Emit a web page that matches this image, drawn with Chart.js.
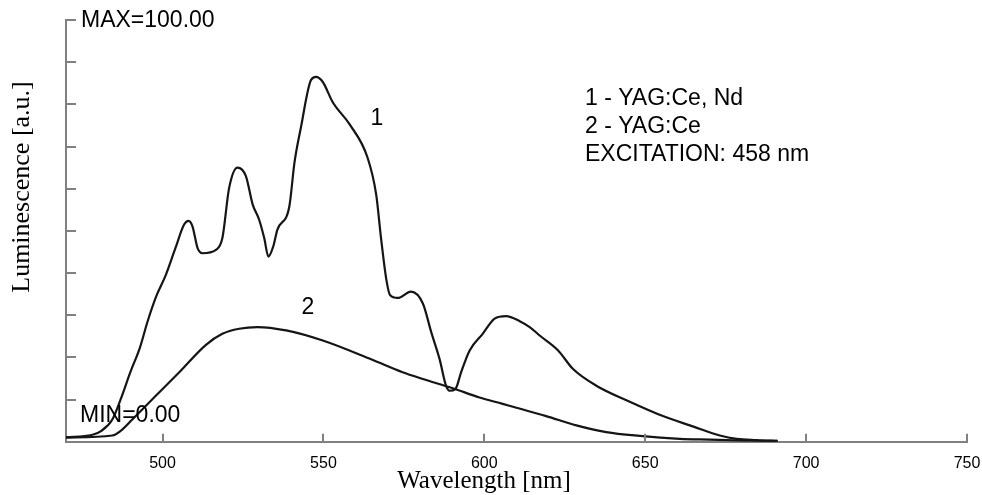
<!DOCTYPE html>
<html>
<head>
<meta charset="utf-8">
<script src="https://cdn.jsdelivr.net/npm/chart.js@4.4.1/dist/chart.umd.min.js"></script>
<style>
  html, body { margin: 0; padding: 0; background: #fff; }
  #wrap { width: 982px; height: 495px; position: relative; }
</style>
</head>
<body>
<div id="wrap"><canvas id="spectrum"></canvas></div>
<script>
// curve 1 - YAG:Ce, Nd
const wl1 = [470, 478, 481, 484.4, 487, 490, 493, 495.3, 498, 501, 504, 506.7, 508.1, 509.3, 510.9, 512.4, 516.6, 518.6,
    520.7, 523.3, 525.9, 528, 530, 531.6, 532.9, 534.4, 535.7, 539.4, 541, 543, 546.1, 547.7, 549.8, 552.9, 558.1,
    563.7, 566.4, 567.9, 569.5, 570.7, 573.1, 577.2, 580.9, 583.5, 586.1, 588.1, 589.2, 591, 592.8, 595.4, 599.5,
    603.2, 606.8, 611, 614.1, 617.2, 623, 627.5, 634.8, 645.2, 655.5, 665, 673.2, 678.4, 684.6, 691.2];
const lum1 = [1.1, 1.6, 2.6, 5.3, 10.1, 16.5, 22.4, 28.4, 34.4, 39.5, 45.9, 51.5, 52.4, 51.1, 45.9, 44.7, 45.5, 48.3,
    60.2, 65.0, 63.0, 56.3, 52.7, 48.3, 43.9, 46.3, 50.3, 55.8, 66.2, 74.5, 85.7, 86.5, 85.3, 80.5, 75.3,
    67.4, 58.6, 48.3, 38.7, 34.8, 34.1, 35.6, 32.8, 26.0, 19.6, 13.3, 12.1, 12.5, 16.5, 21.6, 25.6,
    29.2, 29.8, 28.6, 27.2, 25.2, 21.6, 17.3, 13.3, 9.5, 6.1, 3.6, 1.5, 0.7, 0.4, 0.2];

// curve 2 - YAG:Ce
const wl2 = [470, 484.4, 487, 490.6, 497.9, 505.2, 513.5, 518.6, 523.8, 529.5, 538.4, 549.8, 565, 574.6, 580.9, 590.2,
    598.5, 605.7, 608.9, 619.2, 628.6, 637.9, 648.3, 660.7, 670, 680, 691];
const lum2 = [1.0, 1.5, 2.6, 5.3, 10.9, 16.5, 23.0, 25.6, 26.8, 27.2, 26.4, 24.0, 19.5, 16.5, 14.9, 12.7,
    10.5, 9.0, 8.3, 6.1, 3.9, 2.3, 1.4, 0.7, 0.5, 0.3, 0.2];

const xTicks = [500, 550, 600, 650, 700, 750];
const yTicks = [10, 20, 30, 40, 50, 60, 70, 80, 90, 100];
const legendLines = ['1 - YAG:Ce, Nd', '2 - YAG:Ce', 'EXCITATION: 458 nm'];

const axisColor = '#808080';
const lineColor = '#151515';
const sans = '"Liberation Sans", Arial, sans-serif';
const serif = '"Liberation Serif", "Times New Roman", serif';

function toPoints(xs, ys) {
    return xs.map((v, i) => ({ x: v, y: ys[i] }));
}

// ticks drawn inside the plot + all the text on the figure
const overlay = {
    id: 'overlay',
    afterDraw(chart) {
        const { ctx, chartArea: a, scales: { x, y } } = chart;
        ctx.save();
        ctx.strokeStyle = axisColor;
        ctx.lineWidth = 2;
        yTicks.forEach(v => {
            const py = Math.round(y.getPixelForValue(v));
            ctx.beginPath();
            ctx.moveTo(a.left, py);
            ctx.lineTo(a.left + 10, py);
            ctx.stroke();
        });
        xTicks.forEach(v => {
            const px = Math.round(x.getPixelForValue(v));
            ctx.beginPath();
            ctx.moveTo(px, a.bottom);
            ctx.lineTo(px, a.bottom - 8);
            ctx.stroke();
        });

        ctx.fillStyle = '#000';
        ctx.textBaseline = 'middle';
        ctx.textAlign = 'left';
        ctx.font = '23px ' + sans;
        ctx.fillText('MAX=100.00', 81, 21);
        ctx.fillText('MIN=0.00', 80, 416);

        legendLines.forEach((t, i) => ctx.fillText(t, 585, 99 + i * 28));

        ctx.textAlign = 'center';
        ctx.fillText('1', 377, 119);
        ctx.fillText('2', 308, 308);

        ctx.font = '25px ' + serif;
        ctx.fillText('Wavelength [nm]', 484, 481);

        ctx.translate(22, 187);
        ctx.rotate(-Math.PI / 2);
        ctx.font = '26px ' + serif;
        ctx.fillText('Luminescence [a.u.]', 0, 0);
        ctx.restore();
    }
};

new Chart(document.getElementById('spectrum'), {
    type: 'line',
    data: {
        datasets: [{
            label: '1 - YAG:Ce, Nd',
            data: toPoints(wl1, lum1),
            borderColor: lineColor,
            borderWidth: 2.2,
            pointRadius: 0,
            cubicInterpolationMode: 'monotone'
        },
        {
            label: '2 - YAG:Ce',
            data: toPoints(wl2, lum2),
            borderColor: lineColor,
            borderWidth: 2.2,
            pointRadius: 0,
            cubicInterpolationMode: 'monotone'
        }]
    },
    options: {
        responsive: true,
        maintainAspectRatio: false,
        animation: false,
        layout: { padding: { left: 66, top: 20, right: 15, bottom: 10 } },
        plugins: { legend: { display: false }, tooltip: { enabled: false } },
        scales: {
            x: {
                type: 'linear',
                min: 470,
                max: 750,
                afterBuildTicks: scale => {
                    scale.ticks = xTicks.map(v => ({ value: v }));
                },
                afterFit: scale => {
                    scale.paddingRight = 0; // let the 750 label hang past the axis end
                },
                ticks: {
                    color: '#000',
                    padding: 12,
                    maxRotation: 0,
                    font: { family: sans, size: 16 }
                },
                grid: { display: false, drawTicks: false },
                border: { display: true, color: axisColor, width: 2 }
            },
            y: {
                min: 0,
                max: 100,
                ticks: { display: false, stepSize: 10 },
                grid: { display: false, drawTicks: false },
                border: { display: true, color: axisColor, width: 2 }
            }
        }
    },
    plugins: [overlay]
});
</script>
</body>
</html>
